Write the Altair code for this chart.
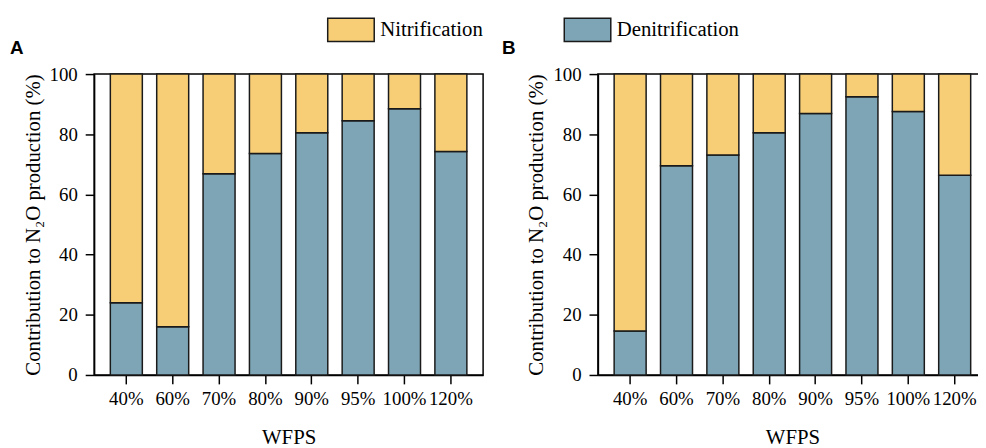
import altair as alt
import pandas as pd

wfps = ["40%", "60%", "70%", "80%", "90%", "95%", "100%", "120%"]
denit_a = [24.0, 16.0, 66.9, 73.6, 80.5, 84.5, 88.5, 74.3]
nit_a = [76.0, 84.0, 33.1, 26.4, 19.5, 15.5, 11.5, 25.7]
denit_b = [14.6, 69.5, 73.1, 80.5, 86.9, 92.5, 87.6, 66.4]
nit_b = [85.4, 30.5, 26.9, 19.5, 13.1, 7.5, 12.4, 33.6]
processes = ["Nitrification", "Denitrification"]
colors = ["#F7CE76", "#7DA5B5"]
y_ticks = [0, 20, 40, 60, 80, 100]


def make_df(denit, nit):
    rows = []
    for i, w in enumerate(wfps):
        rows.append({"WFPS": w, "Process": "Denitrification", "Value": denit[i], "Order": 0})
        rows.append({"WFPS": w, "Process": "Nitrification", "Value": nit[i], "Order": 1})
    return pd.DataFrame(rows)


def panel(df, label, dx):
    return alt.Chart(df).mark_bar(stroke="#1a1a1a", strokeWidth=1.5).encode(
        x=alt.X("WFPS:N", sort=wfps, title="WFPS",
                scale=alt.Scale(paddingInner=0.31, paddingOuter=0.35),
                axis=alt.Axis(labelAngle=0, labelPadding=6, titlePadding=18,
                              titleFontSize=21)),
        y=alt.Y("Value:Q", stack="zero",
                scale=alt.Scale(domain=[0, 100], nice=False),
                title="Contribution to N₂O production (%)",
                axis=alt.Axis(values=y_ticks, labelPadding=8, titlePadding=6,
                              titleFontSize=21)),
        color=alt.Color("Process:N",
                        scale=alt.Scale(domain=processes, range=colors),
                        legend=alt.Legend(title=None, orient="none", direction="horizontal",
                                          legendX=235, legendY=-69.5)),
        order=alt.Order("Order:Q", sort="ascending"),
    ).properties(
        width=393, height=304,
        title=alt.TitleParams(label, anchor="start", frame="group",
                              font="Liberation Sans", fontSize=19, fontWeight="bold",
                              color="black", dx=dx, offset=-7.5, baseline="alphabetic"),
    )


chart = alt.hconcat(
    panel(make_df(denit_a, nit_a), "A", -85),
    panel(make_df(denit_b, nit_b), "B", -97),
    spacing=17,
).properties(
    padding={"left": 1, "top": -5.5, "right": -10, "bottom": -5}
).configure_axis(
    labelFont="Liberation Serif", labelFontSize=19, labelColor="black",
    titleFont="Liberation Serif", titleFontWeight="normal", titleColor="black",
    domainColor="black", domainWidth=1.5, tickColor="black", tickWidth=1.5,
    tickSize=9, grid=False,
).configure_view(
    stroke="black", strokeWidth=1.5
).configure_legend(
    labelFont="Liberation Serif", labelFontSize=21, labelColor="black",
    symbolType="M-1,-0.5H1V0.5H-1Z", symbolSize=2209, symbolStrokeColor="#1a1a1a",
    symbolStrokeWidth=1.5, symbolOpacity=1, labelOffset=5, columnPadding=79, padding=0,
)

chart.save("out.html", embed_options={"renderer": "svg", "actions": False})
